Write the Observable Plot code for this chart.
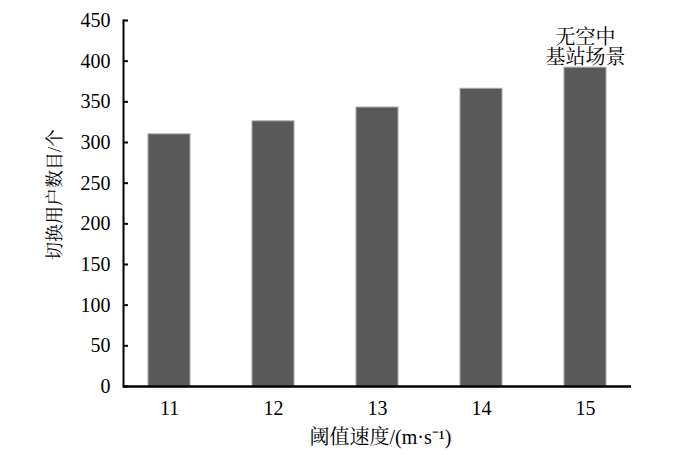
<!DOCTYPE html>
<html>
<head>
<meta charset="utf-8">
<script src="https://cdn.jsdelivr.net/npm/d3@7"></script>
<script src="https://cdn.jsdelivr.net/npm/@observablehq/plot@0.6"></script>
<style>
  html, body { margin: 0; padding: 0; background: #fff; }
  #chart svg, #chart svg text, #chart svg tspan { font-family: 'Liberation Serif', 'Noto Serif CJK SC', serif !important; }
</style>
</head>
<body>
<div id="chart"></div>
<script>
const categories = [11, 12, 13, 14, 15];
const values = [310, 326, 343, 366, 392];
const yTicks = [0, 50, 100, 150, 200, 250, 300, 350, 400, 450];
const annotationText = "无空中\n基站场景";
const xLabel = "阈值速度/(m·s⁻¹)";
const yLabel = "切换用户数目/个";

const FONT = "'Liberation Serif', 'Noto Serif CJK SC', serif";
const data = categories.map((c, i) => ({ c, v: values[i] }));

const chart = Plot.plot({
  width: 681,
  height: 455,
  marginLeft: 123,
  marginRight: 50,
  marginTop: 20,
  marginBottom: 69,
  style: { fontFamily: FONT, fontSize: "20px", color: "#000", background: "#fff" },
  x: { type: "band", domain: categories, paddingInner: 0.6, paddingOuter: 0.227 },
  y: { domain: [0, 450] },
  marks: [
    Plot.barY(data, { x: "c", y: "v", fill: "#595959", stroke: "#a8a8a8", strokeWidth: 1 }),
    Plot.axisY({ ticks: yTicks, tickSize: 0, tickPadding: 13, fontSize: 20, fontFamily: FONT, label: null }),
    Plot.axisY({ ticks: yTicks, tickSize: -5, tickFormat: () => "", label: null, strokeWidth: 2 }),
    Plot.axisX({ tickSize: 0, tickPadding: 14, fontSize: 20, fontFamily: FONT, label: null }),
    Plot.frame({ anchor: "left", strokeWidth: 2 }),
    Plot.ruleY([0], { strokeWidth: 2.5 }),
    Plot.text([yLabel], { text: d => d, frameAnchor: "left", rotate: -90, dx: -68, dy: -9, fontSize: 18, fontFamily: FONT, textAnchor: "middle", lineAnchor: "middle" }),
    Plot.text([xLabel], { text: d => d, frameAnchor: "bottom", dx: 3, dy: 51, fontSize: 20, fontFamily: FONT, textAnchor: "middle", lineAnchor: "middle" }),
    Plot.text([{ c: 15, v: 392, t: annotationText }], { x: "c", y: "v", text: "t", lineAnchor: "bottom", dy: -4, fontSize: 20, fontFamily: FONT, lineHeight: 1.0 })
  ]
});
document.getElementById("chart").appendChild(chart);
</script>
</body>
</html>
